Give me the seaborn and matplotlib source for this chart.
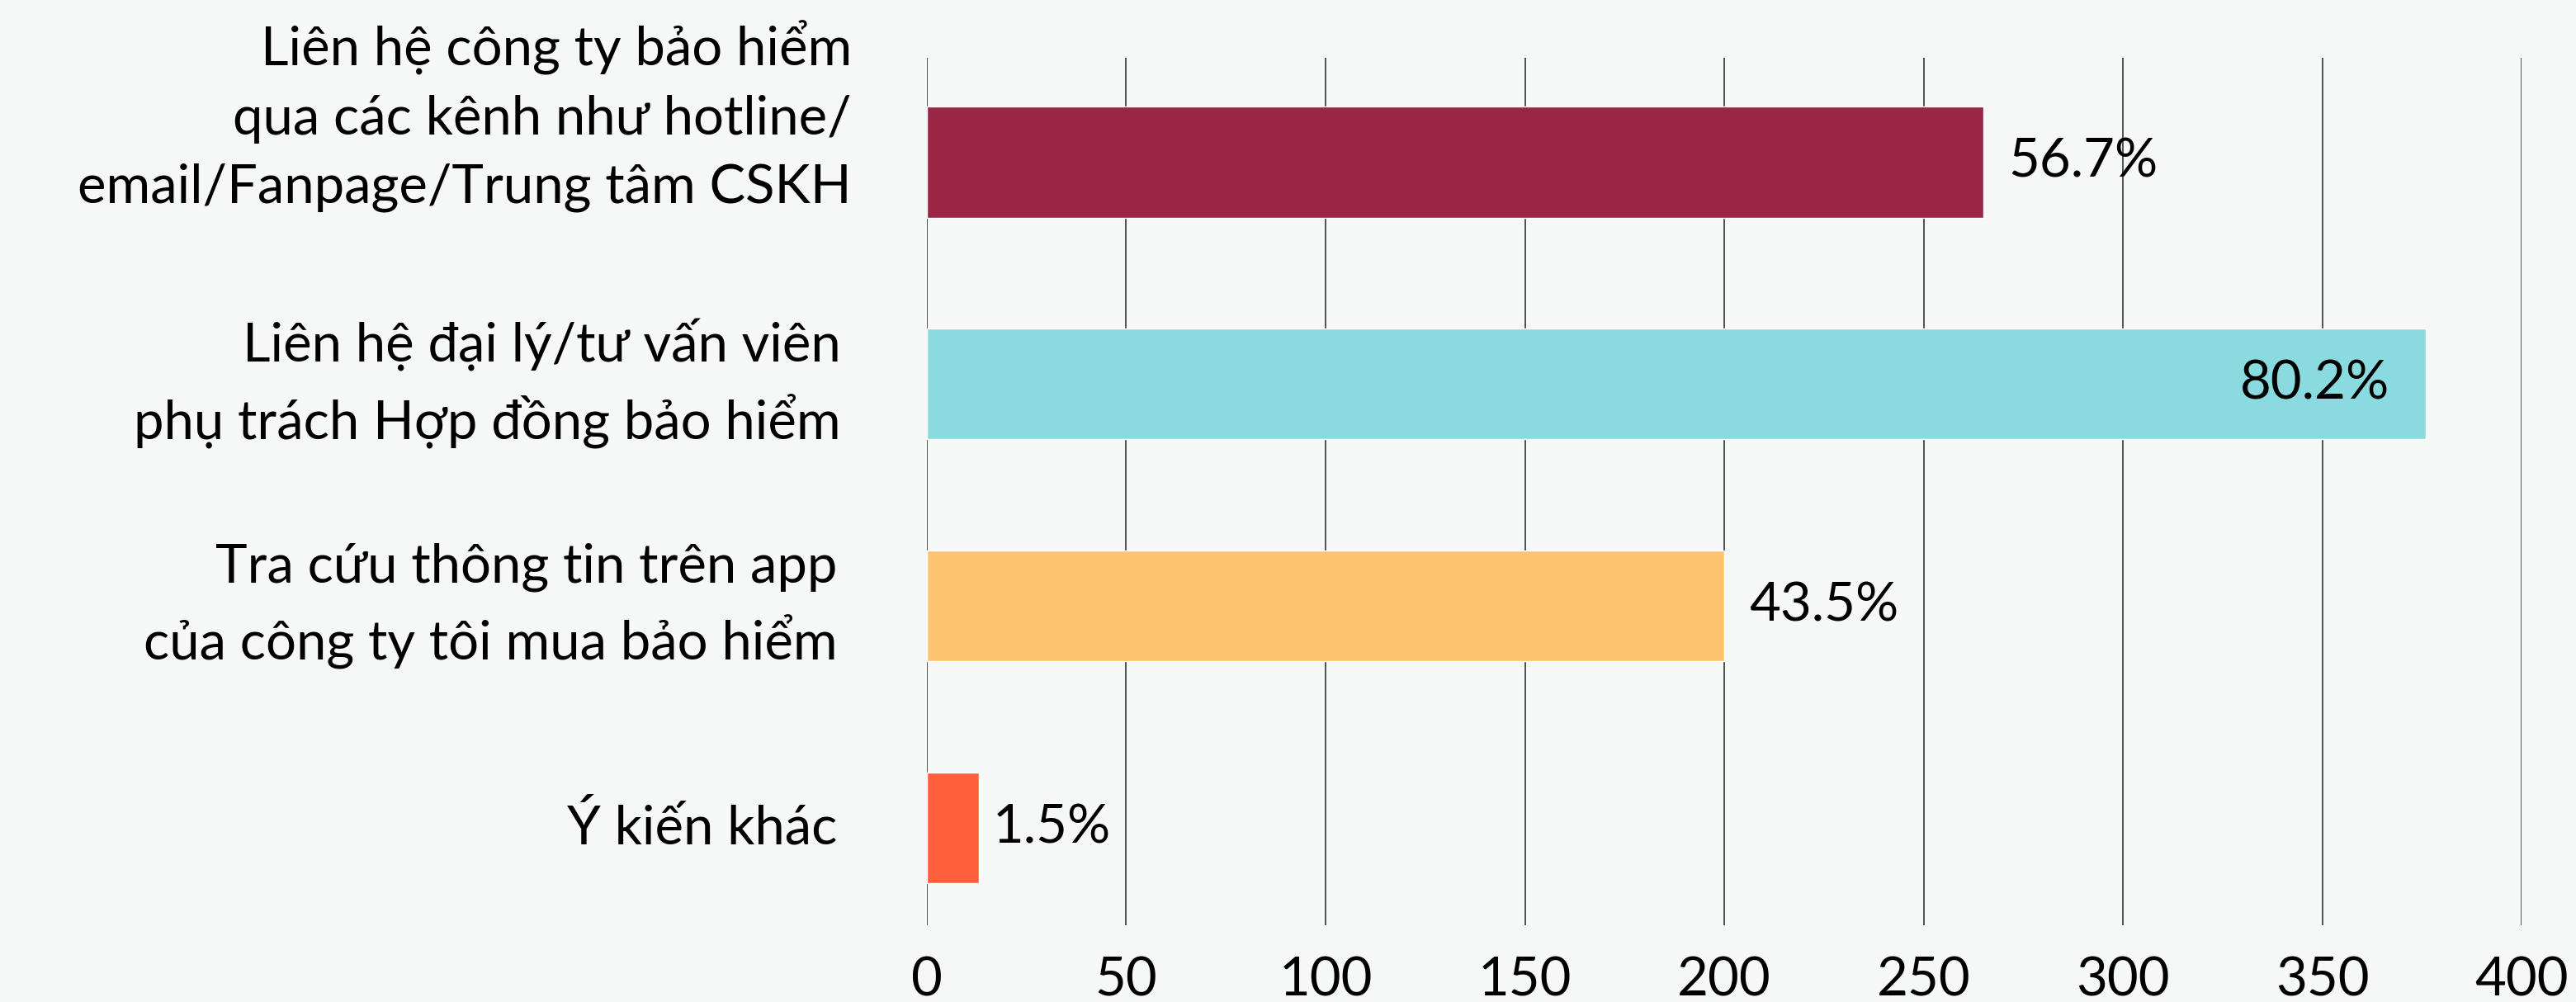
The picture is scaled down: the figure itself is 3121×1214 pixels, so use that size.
import matplotlib
matplotlib.use("Agg")
import matplotlib.pyplot as plt
import seaborn as sns
import pandas as pd

categories = [
    "Liên hệ công ty bảo hiểm\nqua các kênh như hotline/\nemail/Fanpage/Trung tâm CSKH",
    "Liên hệ đại lý/tư vấn viên\nphụ trách Hợp đồng bảo hiểm",
    "Tra cứu thông tin trên app\ncủa công ty tôi mua bảo hiểm",
    "Ý kiến khác",
]
values = [265, 376, 200, 13]
pct_labels = ["56.7%", "80.2%", "43.5%", "1.5%"]
colors = ["#9B2545", "#8ADBDF", "#FFC46E", "#FF5E3A"]
x_ticks = [0, 50, 100, 150, 200, 250, 300, 350, 400]

bg = "#F6F8F7"
sns.set_theme(style="white")
plt.rcParams["font.family"] = ["Lato", "DejaVu Sans"]
FW = "normal"
TC = "#000000"

df = pd.DataFrame({"category": categories, "value": values})

fig = plt.figure(figsize=(31.21, 12.14), dpi=100, facecolor=bg)
ax = fig.add_axes([0.3598, 0.0766, 0.6191, 0.8657])
ax.set_facecolor(bg)

sns.barplot(data=df, x="value", y="category", hue="category",
            palette=colors, legend=False, width=0.5, saturation=1,
            ax=ax, zorder=2)

ax.set_xlim(0, 400)
ax.set_ylim(3.44, -0.47)
ax.set_xticks(x_ticks)
ax.set_xticklabels([str(t) for t in x_ticks], fontsize=47, color=TC,
                   fontweight=FW)
ax.tick_params(axis="x", length=0, pad=27)
ax.set_yticks(range(len(categories)))
ax.set_yticklabels([""] * len(categories))
ax.tick_params(axis="y", length=0)
ax.set_xlabel("")
ax.set_ylabel("")
ax.grid(axis="x", color="#222222", linewidth=1.1)
ax.grid(axis="y", visible=False)
ax.set_axisbelow(True)
for s in ax.spines.values():
    s.set_visible(False)

label_dy = [40, 0, 0, 0]
label_x = [-0.047, -0.054, -0.056, -0.056]
for i, (cat, dy, lx) in enumerate(zip(categories, label_dy, label_x)):
    ax.annotate(cat, xy=(lx, i), xycoords=("axes fraction", "data"),
                xytext=(0, dy), textcoords="offset points",
                ha="right", va="center", fontsize=47, color=TC,
                linespacing=1.5, fontweight=FW)

for i, (v, p) in enumerate(zip(values, pct_labels)):
    if v > 350:
        ax.annotate(p, xy=(v, i), xytext=(-32, 0), textcoords="offset points",
                    ha="right", va="center", fontsize=47, color=TC,
                    fontweight=FW)
    else:
        ax.annotate(p, xy=(v, i), xytext=(22 if v > 50 else 12, 0),
                    textcoords="offset points",
                    ha="left", va="center", fontsize=47, color=TC,
                    fontweight=FW)

fig.savefig("out.png", dpi=100, facecolor=bg)
